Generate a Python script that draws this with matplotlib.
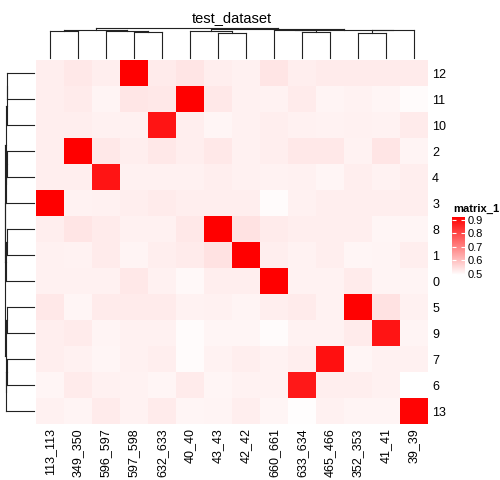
'''
Clustered heatmap of test_dataset (ComplexHeatmap look)
'''
import numpy as np
import matplotlib
matplotlib.use('Agg')
import matplotlib.pyplot as plt
from matplotlib.colors import LinearSegmentedColormap, Normalize
from matplotlib.cm import ScalarMappable

plt.rcParams['font.family'] = ['Liberation Sans', 'DejaVu Sans']

col_labels = ['113_113', '349_350', '596_597', '597_598', '632_633', '40_40', '43_43',
              '42_42', '660_661', '633_634', '465_466', '352_353', '41_41', '39_39']
row_labels = ['12', '11', '10', '2', '4', '3', '8', '1', '0', '5', '9', '7', '6', '13']

values = np.array([
    [0.519, 0.529, 0.519, 0.920, 0.525, 0.534, 0.519, 0.515, 0.534, 0.519, 0.525, 0.525, 0.525, 0.525],
    [0.519, 0.525, 0.510, 0.532, 0.529, 0.920, 0.529, 0.515, 0.512, 0.525, 0.510, 0.512, 0.507, 0.498],
    [0.519, 0.519, 0.515, 0.515, 0.886, 0.519, 0.507, 0.515, 0.519, 0.515, 0.512, 0.515, 0.512, 0.525],
    [0.519, 0.920, 0.529, 0.519, 0.529, 0.519, 0.529, 0.515, 0.519, 0.529, 0.529, 0.512, 0.534, 0.510],
    [0.519, 0.519, 0.886, 0.515, 0.515, 0.515, 0.519, 0.515, 0.512, 0.515, 0.507, 0.519, 0.512, 0.519],
    [0.920, 0.512, 0.515, 0.519, 0.525, 0.519, 0.519, 0.519, 0.498, 0.515, 0.519, 0.519, 0.519, 0.519],
    [0.519, 0.534, 0.525, 0.515, 0.515, 0.529, 0.920, 0.539, 0.525, 0.519, 0.519, 0.519, 0.507, 0.507],
    [0.515, 0.512, 0.525, 0.510, 0.519, 0.525, 0.539, 0.920, 0.519, 0.512, 0.519, 0.507, 0.510, 0.519],
    [0.515, 0.515, 0.515, 0.529, 0.515, 0.503, 0.519, 0.519, 0.920, 0.512, 0.512, 0.525, 0.510, 0.510],
    [0.529, 0.507, 0.525, 0.525, 0.525, 0.512, 0.515, 0.510, 0.519, 0.525, 0.512, 0.915, 0.539, 0.515],
    [0.519, 0.525, 0.510, 0.515, 0.515, 0.498, 0.507, 0.507, 0.498, 0.512, 0.512, 0.525, 0.886, 0.510],
    [0.519, 0.515, 0.507, 0.515, 0.519, 0.498, 0.512, 0.519, 0.512, 0.519, 0.893, 0.507, 0.515, 0.515],
    [0.507, 0.525, 0.515, 0.512, 0.507, 0.525, 0.507, 0.512, 0.512, 0.879, 0.519, 0.519, 0.515, 0.490],
    [0.515, 0.510, 0.525, 0.512, 0.525, 0.507, 0.510, 0.519, 0.507, 0.495, 0.515, 0.510, 0.510, 0.912],
])

# merges (child a, child b, height); ids >= 14 refer to earlier merges
col_merges = [(3, 4, 0.86), (6, 7, 0.85), (11, 12, 0.85), (9, 10, 0.87),
              (0, 1, 0.90), (2, 14, 0.90), (5, 15, 0.90), (8, 17, 0.92),
              (16, 13, 0.92), (18, 19, 0.95), (21, 22, 0.95), (20, 24, 0.97),
              (23, 25, 1.0)]
row_merges = [(0, 1, 0.92), (14, 2, 0.94), (3, 4, 0.93), (16, 5, 0.95),
              (6, 7, 0.93), (18, 8, 0.96), (9, 10, 0.92), (11, 12, 0.92),
              (21, 13, 0.97), (20, 22, 0.98), (15, 17, 0.97), (24, 19, 0.99),
              (25, 23, 1.0)]

vmin, vmax = 0.49, 0.92
cmap = LinearSegmentedColormap.from_list('wr', ['#FFFFFF', '#FF0000'])
W, H = 500, 480


def fig_rect(x0, y0, x1, y1):
    return [x0 / W, (H - y1) / H, (x1 - x0) / W, (y1 - y0) / H]


def draw_dendro(ax, merges, n, side):
    pos = {i: i + 0.5 for i in range(n)}
    hgt = {i: 0.0 for i in range(n)}
    for k, (a, b, h) in enumerate(merges):
        segs = [([pos[a], pos[a]], [hgt[a], h]),
                ([pos[b], pos[b]], [hgt[b], h]),
                ([pos[a], pos[b]], [h, h])]
        for p, q in segs:
            if side == 'top':
                ax.plot(p, q, color='#222222', lw=0.8, clip_on=False)
            else:
                ax.plot(q, p, color='#222222', lw=0.8, clip_on=False)
        pos[n + k] = (pos[a] + pos[b]) / 2
        hgt[n + k] = h
    ax.axis('off')


fig = plt.figure(figsize=(5, 4.8), dpi=100)

ax = fig.add_axes(fig_rect(36, 60, 428, 424))
ax.pcolormesh(values, cmap=cmap, vmin=vmin, vmax=vmax)
ax.set_xlim(0, len(col_labels))
ax.set_ylim(len(row_labels), 0)
ax.set_xticks(np.arange(len(col_labels)) + 0.5)
ax.set_xticklabels(col_labels, rotation=90, va='top', fontsize=9)
ax.set_yticks(np.arange(len(row_labels)) + 0.5)
ax.set_yticklabels(row_labels, fontsize=9)
ax.yaxis.tick_right()
ax.tick_params(length=0, pad=3)
for s in ax.spines.values():
    s.set_visible(False)

ax_top = fig.add_axes(fig_rect(36, 28, 428, 58))
ax_top.set_xlim(0, len(col_labels))
ax_top.set_ylim(0, 1.0)
draw_dendro(ax_top, col_merges, len(col_labels), 'top')

ax_left = fig.add_axes(fig_rect(5, 60, 34, 424))
ax_left.set_ylim(len(row_labels), 0)
ax_left.set_xlim(1.0, 0)
draw_dendro(ax_left, row_merges, len(row_labels), 'left')

fig.text(232 / W, 1 - 18 / H, 'test_dataset', ha='center', va='center', fontsize=10.5)

# legend
cax = fig.add_axes(fig_rect(452, 217, 465, 275))
cb = fig.colorbar(ScalarMappable(norm=Normalize(vmin, vmax), cmap=cmap), cax=cax,
                  ticks=[0.5, 0.6, 0.7, 0.8, 0.9])
cb.outline.set_visible(False)
cax.tick_params(axis='y', which='both', direction='in', length=3, width=0.8,
                color='white', labelsize=8, pad=2, left=True, right=True)
cax.minorticks_off()
fig.text(453 / W, 1 - 209 / H, 'matrix_1', ha='left', va='center', fontsize=8,
         fontweight='bold')

fig.savefig('out.png', dpi=100)
